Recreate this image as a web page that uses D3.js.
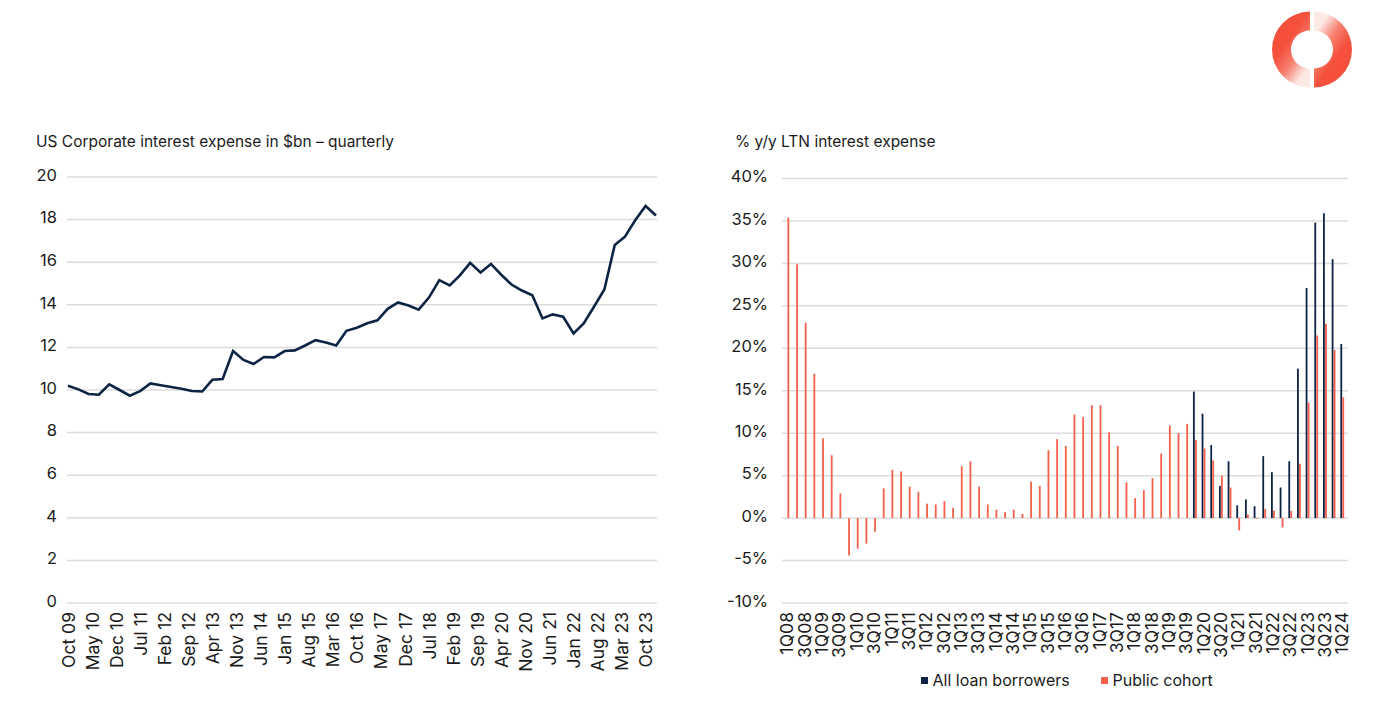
<!DOCTYPE html>
<html>
<head>
<meta charset="utf-8">
<script src="https://cdn.jsdelivr.net/npm/d3@7/dist/d3.min.js"></script>
<style>
  html, body { margin: 0; padding: 0; background: #ffffff; }
  svg { display: block; font-family: Inter, "Open Sans", sans-serif; }
</style>
</head>
<body>
<svg id="chart" width="1392" height="712"></svg>
<script>
// ---------- DATA ----------
// Left chart: US corporate interest expense, $bn, quarterly from Oct 09
const leftStart = "Oct 09";
const leftValues = [
  10.20, 10.03, 9.81, 9.78, 10.27, 10.00, 9.73, 9.95, 10.31, 10.22,
  10.14, 10.06, 9.95, 9.93, 10.48, 10.52, 11.83, 11.41, 11.22, 11.55,
  11.53, 11.83, 11.86, 12.09, 12.34, 12.23, 12.09, 12.78, 12.92, 13.13,
  13.27, 13.81, 14.11, 13.97, 13.77, 14.34, 15.16, 14.91, 15.38, 15.97,
  15.52, 15.92, 15.41, 14.95, 14.67, 14.45, 13.36, 13.55, 13.44, 12.66,
  13.13, 13.91, 14.72, 16.81, 17.20, 17.97, 18.64, 18.19
];
const leftTickLabels = [
  "Oct 09", "May 10", "Dec 10", "Jul 11", "Feb 12", "Sep 12", "Apr 13", "Nov 13",
  "Jun 14", "Jan 15", "Aug 15", "Mar 16", "Oct 16", "May 17", "Dec 17", "Jul 18",
  "Feb 19", "Sep 19", "Apr 20", "Nov 20", "Jun 21", "Jan 22", "Aug 22", "Mar 23", "Oct 23"
];
const leftYTicks = [0, 2, 4, 6, 8, 10, 12, 14, 16, 18, 20];

// Right chart: % y/y LTN interest expense, quarterly 1Q08 - 1Q24
const rightCategories = [];
for (let yr = 8; yr <= 24; yr++) {
  for (let q = 1; q <= 4; q++) {
    if (yr === 24 && q > 1) break;
    rightCategories.push(q + "Q" + String(yr).padStart(2, "0"));
  }
}
const publicCohort = [
  35.4, 29.9, 23.0, 17.0, 9.4, 7.4, 2.9, -4.4, -3.6, -3.0,
  -1.6, 3.5, 5.7, 5.5, 3.7, 3.1, 1.7, 1.6, 2.0, 1.2,
  6.1, 6.7, 3.7, 1.6, 1.0, 0.7, 1.0, 0.5, 4.3, 3.8,
  8.0, 9.3, 8.5, 12.2, 11.9, 13.3, 13.3, 10.1, 8.5, 4.2,
  2.35, 3.3, 4.7, 7.6, 10.9, 10.0, 11.1, 9.2, 8.2, 6.8,
  5.0, 3.6, -1.45, 0.4, -0.1, 1.06, 0.9, -1.1, 0.86, 6.4,
  13.6, 21.5, 22.9, 19.8, 14.2
];
const allLoanBorrowers = [
  null, null, null, null, null, null, null, null, null, null,
  null, null, null, null, null, null, null, null, null, null,
  null, null, null, null, null, null, null, null, null, null,
  null, null, null, null, null, null, null, null, null, null,
  null, null, null, null, null, null, null, 14.9, 12.3, 8.6,
  3.8, 6.7, 1.5, 2.2, 1.4, 7.3, 5.4, 3.6, 6.7, 17.6,
  27.1, 34.8, 35.9, 30.5, 20.5
];
const rightYTicks = [-10, -5, 0, 5, 10, 15, 20, 25, 30, 35, 40];
const legendLabels = ["All loan borrowers", "Public cohort"];

// ---------- STYLE ----------
const NAVY = "#0d2444";
const RED = "#f4604b";
const GRID = "#dcdcdc";
const TEXT = "#1b1b1b";

const svg = d3.select("#chart");
const parse = d3.timeParse("%b %y");

// ---------- LEFT CHART ----------
const startDate = parse(leftStart);
const leftData = leftValues.map((v, i) => ({ date: d3.timeMonth.offset(startDate, i * 3), value: v }));
const xL = d3.scaleTime()
  .domain([leftData[0].date, leftData[leftData.length - 1].date])
  .range([68, 656]);
const yL = d3.scaleLinear().domain([0, 20]).range([603, 177]);

const gL = svg.append("g");
gL.append("text").attr("x", 36).attr("y", 147)
  .attr("font-size", 15.5).attr("fill", TEXT)
  .text("US Corporate interest expense in $bn \u2013 quarterly");

gL.selectAll("line.grid").data(leftYTicks).join("line")
  .attr("x1", 67).attr("x2", 657)
  .attr("y1", d => yL(d)).attr("y2", d => yL(d))
  .attr("stroke", GRID).attr("stroke-width", 1.5);

const yAxisL = d3.axisLeft(yL).tickValues(leftYTicks).tickSize(0).tickPadding(0);
const yAxL = gL.append("g").attr("transform", "translate(57,0)").call(yAxisL);
yAxL.select(".domain").remove();
yAxL.selectAll("text").attr("font-size", 16.5).attr("fill", TEXT)
  .attr("font-family", "Inter, sans-serif").attr("y", -2);

const xTickDates = leftTickLabels.map(parse);
const xAxisL = d3.axisBottom(xL).tickValues(xTickDates).tickFormat(d3.timeFormat("%b %y")).tickSize(0);
const xAxL = gL.append("g").attr("transform", "translate(0,612)").call(xAxisL);
xAxL.select(".domain").remove();
xAxL.selectAll("text")
  .attr("font-size", 17.5).attr("fill", TEXT).attr("font-family", "Inter, sans-serif")
  .attr("transform", "rotate(-90)")
  .attr("text-anchor", "end")
  .attr("x", 0).attr("y", 0).attr("dy", "0.35em");

const line = d3.line().x(d => xL(d.date)).y(d => yL(d.value));
gL.append("path").datum(leftData)
  .attr("d", line).attr("fill", "none")
  .attr("stroke", NAVY).attr("stroke-width", 2.6)
  .attr("stroke-linejoin", "miter");

// ---------- RIGHT CHART ----------
const xR = d3.scaleBand().domain(rightCategories).range([783, 1346.6]).padding(0);
const yR = d3.scaleLinear().domain([-10, 40]).range([603, 178.5]);
const gR = svg.append("g");

gR.append("text").attr("x", 735).attr("y", 147)
  .attr("font-size", 15.5).attr("fill", TEXT)
  .text("% y/y LTN interest expense");

gR.selectAll("line.grid").data(rightYTicks).join("line")
  .attr("x1", 782).attr("x2", 1348)
  .attr("y1", d => yR(d)).attr("y2", d => yR(d))
  .attr("stroke", GRID).attr("stroke-width", 1.5);

const yAxisR = d3.axisLeft(yR).tickValues(rightYTicks).tickSize(0).tickPadding(0)
  .tickFormat(d => d + "%");
const yAxR = gR.append("g").attr("transform", "translate(768,0)").call(yAxisR);
yAxR.select(".domain").remove();
yAxR.selectAll("text").attr("font-size", 16.5).attr("fill", TEXT)
  .attr("font-family", "Inter, sans-serif").attr("y", -2);

const bw = 1.8;
const cx = c => xR(c) + xR.bandwidth() / 2;

gR.selectAll("rect.navy").data(rightCategories.map((c, i) => ({ c, v: allLoanBorrowers[i] })).filter(d => d.v !== null))
  .join("rect")
  .attr("x", d => cx(d.c) - 1.9).attr("width", bw)
  .attr("y", d => yR(Math.max(0, d.v))).attr("height", d => Math.abs(yR(d.v) - yR(0)))
  .attr("fill", NAVY);

gR.selectAll("rect.red").data(rightCategories.map((c, i) => ({ c, v: publicCohort[i] })))
  .join("rect")
  .attr("x", d => cx(d.c) + 0.1).attr("width", bw)
  .attr("y", d => yR(Math.max(0, d.v))).attr("height", d => Math.max(0.5, Math.abs(yR(d.v) - yR(0))))
  .attr("fill", RED);

const xAxisR = d3.axisBottom(xR).tickValues(rightCategories.filter((c, i) => i % 2 === 0)).tickSize(0);
const xAxR = gR.append("g").attr("transform", "translate(0,612)").call(xAxisR);
xAxR.select(".domain").remove();
xAxR.selectAll("text")
  .attr("font-size", 17.5).attr("fill", TEXT).attr("font-family", "Inter, sans-serif")
  .attr("transform", "rotate(-90)")
  .attr("text-anchor", "end")
  .attr("x", 0).attr("y", 0).attr("dy", "0.35em");

// Legend
const legend = gR.append("g").attr("transform", "translate(0,686)");
const legendItems = [
  { label: legendLabels[0], color: NAVY, x: 921 },
  { label: legendLabels[1], color: RED, x: 1101 }
];
legendItems.forEach(it => {
  legend.append("rect").attr("x", it.x).attr("y", -9).attr("width", 7).attr("height", 7).attr("fill", it.color);
  legend.append("text").attr("x", it.x + 11.5).attr("y", 0).attr("font-size", 16).attr("fill", TEXT).text(it.label);
});

// ---------- LOGO ----------
const defs = svg.append("defs");
const grad = defs.append("linearGradient").attr("id", "logoGrad")
  .attr("x1", "0.3").attr("y1", "0.25").attr("x2", "0.8").attr("y2", "0.95");
grad.append("stop").attr("offset", "0.2").attr("stop-color", "#f4503c");
grad.append("stop").attr("offset", "0.55").attr("stop-color", "#f6806f");
grad.append("stop").attr("offset", "0.9").attr("stop-color", "#fde9e6");

const logo = svg.append("g").attr("transform", "translate(1312,49.5)");
const halfArc = d3.arc().innerRadius(19).outerRadius(38).startAngle(Math.PI).endAngle(2 * Math.PI);
logo.append("path").attr("d", halfArc()).attr("transform", "translate(-2,0)").attr("fill", "url(#logoGrad)");
logo.append("path").attr("d", halfArc()).attr("transform", "rotate(180) translate(-2,0)").attr("fill", "url(#logoGrad)");
</script>
</body>
</html>
